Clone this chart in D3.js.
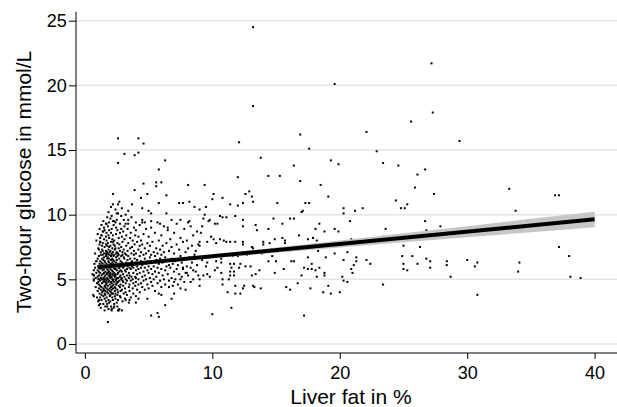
<!DOCTYPE html>
<html><head><meta charset="utf-8">
<script src="https://cdn.jsdelivr.net/npm/d3@7"></script>
<style>body{margin:0;background:#fff}svg{display:block}text{font-family:"Liberation Sans",Arial,sans-serif;fill:#000}</style>
</head><body><svg id="c" width="617" height="407"></svg>
<script>
const xTicks=[0,10,20,30,40];
const yTicks=[0,5,10,15,20,25];
// sparse / outlying points: [liver fat %, glucose mmol/L]
const sparse=[
[13.2,24.5],[27.2,21.7],[19.6,20.1],[13.2,18.4],[27.3,17.9],[25.6,17.2],[22.1,16.4],[16.9,16.2],[29.4,15.7],[12.1,15.6],[2.6,15.9],[4.2,15.9],[4.6,15.5],[3.1,14.7],[3.9,14.6],[4.2,14.8],[2.6,14.0],[6.3,14.2],[5.8,13.5],[17.6,15.1],[13.8,14.4],[16.4,13.8],[19.3,14.2],[19.9,13.9],[22.9,14.9],[23.4,14.0],[24.6,13.8],[26.1,13.1],[26.7,13.5],[12.0,12.9],[14.4,13.0],[15.3,13.0],
[25.9,12.1],[33.3,12.0],[27.4,11.6],[36.9,11.5],[37.2,11.5],[24.4,11.1],[25.3,10.8],[24.8,10.5],[25.1,10.5],[33.8,10.3],[26.7,9.5],[27.9,9.1],[23.6,8.9],[26.8,8.8],[23.4,8.3],[25.0,7.6],[26.3,7.5],[37.2,7.5],[24.9,6.8],[25.7,6.8],[38.0,6.8],[26.8,6.6],[27.1,6.4],[28.4,6.4],[30.0,6.5],[30.8,6.3],[34.1,6.3],[25.0,6.2],[26.1,6.2],[28.4,6.1],[30.6,6.0],[27.1,5.9],[25.0,5.8],[25.3,5.7],[34.0,5.6],[28.7,5.2],[38.1,5.2],[38.9,5.1],[23.4,4.6],[30.8,3.8],
[9.4,12.3],[16.9,12.6],[18.5,12.3],[10.1,11.6],[10.0,11.2],[10.8,11.3],[12.6,11.6],[12.9,11.8],[13.1,11.4],[13.2,11.0],[12.4,10.9],[12.0,10.7],[11.4,10.8],[9.5,10.6],[15.1,10.9],[17.3,10.9],[17.6,10.9],[19.1,11.4],[17.1,10.3],[17.0,10.2],[20.3,10.5],[20.3,10.1],[21.2,10.3],[21.8,10.5],[9.0,10.4],[9.4,10.0],[9.3,9.7],[10.6,9.9],[10.8,9.8],[11.1,9.8],[11.8,9.9],[9.8,9.6],[10.2,9.3],[10.4,9.3],[12.4,9.6],[14.8,9.7],[15.5,9.3],[16.1,9.7],[16.4,9.7],[18.4,9.3],[18.1,8.9],[18.8,8.7],[19.6,8.9],[19.9,8.7],[20.8,9.5],[12.4,9.1],[13.4,9.2],[13.5,8.8],[14.4,8.9],[9.1,8.6],[9.0,7.9],[9.0,7.6],[9.6,7.9],[9.9,8.3],[10.1,8.1],[10.3,7.8],[10.6,8.1],[10.9,8.0],[11.1,7.9],[11.4,7.9],[11.8,7.9],[12.4,7.9],[12.4,7.7],[13.1,7.5],[13.2,7.4],[14.0,7.9],[14.0,7.7],[14.5,7.8],[14.9,8.1],[15.5,8.2],[15.7,8.0],[15.7,7.8],[16.8,8.4],[17.5,8.1],[17.9,8.2],[18.2,8.0],[18.3,7.2],[19.2,7.8],[14.7,6.8],[12.7,6.9],[12.0,6.8],[11.6,6.8],[10.7,6.6],[9.7,6.7],[9.2,6.5],[9.6,6.3],[10.3,6.4],[10.7,6.3],[11.4,6.2],[11.7,6.2],[12.1,5.9],[11.5,5.9],[10.4,5.9],[9.5,6.0],[9.3,5.3],[9.6,5.4],[9.8,5.2],[10.2,5.7],[10.7,5.5],[11.4,5.6],[11.7,5.6],[11.7,5.3],[9.0,5.0],[10.8,5.0],[11.3,5.0],[11.4,5.3],[13.1,5.3],[13.4,5.4],[13.7,5.7],[13.0,6.0],[12.6,6.0],[12.2,6.2],[10.8,4.6],[9.0,4.5],[11.8,4.5],[12.5,4.5],[12.4,4.3],[13.2,4.5],[13.3,4.4],[13.8,4.3],[11.2,4.0],[11.8,3.9],[12.2,3.9],[11.5,2.8],[10.0,2.3],[17.2,2.2],[14.4,6.4],[15.0,6.4],[15.6,5.8],[16.2,6.4],[16.4,6.4],[15.8,4.4],[16.1,4.2],[16.7,4.7],[17.0,5.3],[17.2,5.9],[17.5,5.8],[17.8,5.8],[18.1,5.7],[17.8,6.2],[18.4,5.9],[18.9,6.7],[18.8,5.5],[18.8,5.3],[18.2,5.2],[17.7,4.3],[19.1,4.5],[18.7,4.0],[19.3,3.9],[20.0,4.0],[20.3,4.9],[20.6,4.8],[20.2,5.2],[21.0,5.5],[20.9,5.8],[21.1,6.1],[20.3,6.5],[20.6,7.1],[21.3,6.7],[21.3,6.4],[22.1,6.5],[22.4,6.2],[20.9,8.1],[19.6,7.0],[17.5,6.7],[14.9,5.5],[13.9,7.0],
[4.6,12.4],[5.6,12.5],[6.0,12.5],[5.6,12.2],[8.1,12.3],[2.2,11.6],[3.9,11.9],[4.9,11.6],[4.4,11.3],[6.4,11.5],[7.4,10.9],[7.7,10.9],[8.2,11.0],[5.8,10.9],[3.7,10.8],[2.6,10.8],[2.2,10.8],[2.7,11.0],[3.4,10.3],[5.0,10.3],[4.5,10.5],[2.5,10.1],[5.2,10.1],[6.4,10.1],[8.6,10.6],[1.7,9.3],[2.2,9.5],[2.4,9.4],[3.2,9.3],[3.4,9.6],[4.0,9.4],[4.5,9.4],[4.7,9.4],[5.2,9.5],[5.9,9.3],[6.5,9.0],[6.8,9.6],[7.5,9.6],[8.1,9.4],[8.3,9.1],[9.2,9.1],[9.7,9.5],[1.4,8.7],[1.3,8.4],[1.2,7.9],[1.1,7.3],[0.9,6.4],[0.7,5.7],[0.7,5.3],[0.7,5.0],[0.7,3.7],[1.1,3.4],[1.2,3.1],[1.6,2.9],[2.1,2.7],[1.8,1.7],[2.3,2.9],[2.6,2.6],[2.9,2.6],[2.5,3.2],[3.2,3.4],[3.5,3.4],[4.0,3.2],[4.2,3.5],[4.9,3.5],[5.2,2.2],[5.7,2.4],[5.8,2.1],[6.3,3.0],[5.8,3.9],[6.0,3.8],[6.8,3.5],[7.0,3.9],[7.5,4.3],[7.9,4.2],[8.3,4.8],[7.5,5.0],[7.0,4.8],[6.6,4.4],[8.9,5.3],[8.5,5.7],[8.0,5.5],[7.7,5.9]
];
// dense cluster, per liver-fat column: glucose values
const colX=[0.60,0.65,0.70,0.75,0.80,0.85,0.90,0.95,1.00,1.05,1.10,1.15,1.20,1.25,1.30,1.35,1.40,1.45,1.50,1.55,1.60,1.65,1.70,1.75,1.80,1.85,1.90,1.95,2.00,2.05,2.10,2.15,2.20,2.25,2.30,2.35,2.40,2.45,2.50,2.55,2.60,2.65,2.70,2.75,2.80,2.85,2.90,2.95,3.00,3.05,3.10,3.15,3.20,3.25,3.30,3.35,3.40,3.45,3.50,3.55,3.60,3.65,3.70,3.75,3.80,3.85,3.90,3.95,
4.0,4.1,4.2,4.3,4.4,4.5,4.6,4.7,4.8,4.9,5.0,5.1,5.2,5.3,5.4,5.5,5.6,5.7,5.8,5.9,6.0,6.1,6.2,6.3,6.4,6.5,6.6,6.7,6.8,6.9,7.0,7.1,7.2,7.3,7.4,7.5,7.6,7.7,7.8,7.9,8.0,8.1,8.2,8.3,8.4,8.5,8.6,8.7,8.8,8.9];
const colY=[
[5.4],[3.8],[4.9,5.3],[6.2],[5.9,7.0],[4.4,5.1],[6.4,5.5,8.0],[3.6,4.7],
[5.2,4.1,5.7,6.6,8.5],[6.0,7.4,4.8,3.3,5.0],
[4.6,6.8,5.3,4.3,5.6,3.0],[5.9,3.9,7.7,6.2,8.9,5.0],
[5.5,6.4,3.6,4.9,8.2,4.5,7.9],[4.2,7.1,5.8,6.9,5.1,6.1,2.8],
[6.0,5.3,3.8,4.4,8.4,9.2,6.3,3.4],[4.7,7.3,6.6,5.9,5.0,4.0,7.6],
[5.7,6.9,7.8,6.2,5.4,4.1,7.2,5.9],[4.3,5.1,3.7,4.8,8.7,6.5,3.1,9.5],
[4.9,5.5,7.0,6.7,8.1,5.8,4.2,9.0,5.0],[6.1,3.9,4.5,5.2,3.5,7.5,6.4,2.6,8.8],
[5.3,6.3,3.8,4.1,5.0,4.4,5.6,6.0,4.8],[4.6,7.2,5.9,6.8,8.3,7.7,3.3,9.3,7.0],
[6.2,5.4,4.7,3.6,8.0,4.3,6.0,8.6,4.9,6.9],[4.0,7.6,6.6,5.1,5.8,7.1,3.1,5.5,9.8,2.9],
[5.0,4.5,5.7,6.1,4.2,7.0,6.7,9.1,7.8,5.5],[6.4,7.3,3.9,8.4,5.3,4.8,3.4,5.9,2.7,10.2],
[5.6,6.9,7.5,6.3,8.2,4.9,3.2,9.4,8.8,6.6],[4.1,5.2,3.7,4.6,5.9,7.1,6.0,5.4,4.3],
[6.0,5.1,3.8,5.5,7.2,3.3,5.8,9.7,5.3,7.6],[4.4,7.9,6.5,4.8,8.6,6.2,4.0,6.8,2.9,10.6],
[5.2,4.2,5.7,6.1,4.7,6.9,8.9,7.0,9.9,2.6],[6.6,7.4,3.6,8.1,5.0,3.9,5.4,4.5,6.3],
[4.9,5.6,3.9,4.3,8.4,7.1,3.4,6.5,7.9],[6.2,7.7,6.8,5.3,4.6,5.9,9.2,5.0,2.8],
[5.5,6.4,4.8,8.0,6.0,9.5,6.9,3.1],[4.1,7.3,5.8,3.7,5.2,4.4,7.6,5.4],
[6.1,5.3,3.9,5.8,4.3,7.4,3.5,10.4],[4.6,7.0,6.7,8.5,5.0,9.0,6.3,4.9],
[5.7,6.5,5.1,6.0,4.7,7.1,9.6],[4.2,7.8,3.8,8.8,5.4,2.9,6.8],
[4.8,5.5,4.0,5.1,3.4,10.1,7.0],[6.2,7.4,6.9,8.2,5.9,4.5,2.6],
[5.9,6.6,7.7,6.1,4.9,5.6,2.7],[4.4,5.2,3.7,8.6,9.3,7.2],
[5.3,4.6,4.1,5.7,3.6,6.4],[6.8,7.5,6.0,8.9,9.9,5.0],
[6.3,5.6,4.2,5.1,8.3,10.5],[4.9,7.9,6.9,3.3,7.1],
[5.4,4.5,5.9,8.7,4.8],[6.7,7.3,3.9,6.2,9.6],
[6.0,5.2,6.6,8.1,9.1],[4.3,7.0,3.5,5.7],
[5.6,4.7,5.0,4.0,10.0],[7.6,6.3,8.4,6.9],
[4.9,5.8,3.8,5.3],[6.5,7.2,8.9,6.0],
[6.2,7.8,6.8,9.3],[5.1,4.4,5.5,3.2],
[5.3,4.6,5.9,4.1],[6.6,7.4,8.2],
[5.8,4.9,8.6,3.6],[7.0,6.3,5.2,9.8],
[6.4,7.5,6.0],[5.0,4.3,8.0],
[5.5,4.7,5.9,3.9],[6.9,7.2,9.0],
[6.1,7.7,6.6],[5.2,4.5,8.4],
[5.7,7.0,4.8,6.3,8.8,5.1,3.7],
[6.5,5.4,7.9,4.2,6.0],
[5.0,7.3,6.2,4.6,8.3,5.8],
[6.8,5.5,4.0,7.6,9.2],
[5.9,4.7,7.1,6.4,8.0],
[6.1,5.2,7.7,4.4,9.6],
[5.6,6.9,4.9,8.5],
[6.6,5.3,7.4,4.2,5.9],
[5.0,7.0,6.2,8.9],
[6.4,5.7,4.6,7.8],
[5.5,7.2,6.0,4.3,8.3],
[6.7,5.1,7.6],
[5.8,4.8,6.9,9.0],
[6.3,5.4,7.9,4.5],
[7.1,6.0,5.0],
[5.6,6.8,8.6,4.1],
[6.5,5.2,7.4],
[5.9,7.0,4.7,9.4],
[6.2,5.5,8.0],
[7.3,4.9,6.6],
[5.8,6.9,8.4,4.4],
[6.3,5.3,7.6],
[5.0,7.1,9.1],
[6.7,5.7,4.6],
[7.8,6.0],
[5.4,6.5,8.8],
[7.2,4.9,6.1],
[5.9,8.1],
[6.6,5.1,7.5],
[6.2,4.5],
[7.0,5.6,8.6],
[6.4,5.0],
[7.7,5.8,9.3],
[6.1,4.6],
[7.3,5.4],
[6.8,8.2],
[5.2,6.3],
[7.9,5.8],
[6.6,4.8,8.9],
[7.1,5.5],
[6.0,8.0],
[5.3,7.4],
[6.7,9.5],
[5.9],
[7.6,6.3],
[5.0,8.4],
[6.9],
[7.2,5.6],
[6.1,8.7],
[7.7]
];
// fitted line and 95% CI band
const fitX=[1,40];
const fitY=[5.93,9.64];
const ciX=[1,3,6,10,15,20,25,30,35,40];
const ciLow=[5.75,5.98,6.28,6.64,7.06,7.46,7.86,8.25,8.64,9.03];
const ciHigh=[6.11,6.26,6.52,6.92,7.46,8.00,8.56,9.11,9.68,10.23];

const svg=d3.select('#c');
const pLeft=76,pRight=617,pTop=11.7,pBottom=353;
const x=d3.scaleLinear().domain([0,40]).range([84.9,594.6]);
const y=d3.scaleLinear().domain([0,25]).range([344,20.7]);

svg.append('g').selectAll('line').data(yTicks).join('line')
 .attr('x1',pLeft).attr('x2',pRight).attr('y1',d=>y(d)).attr('y2',d=>y(d))
 .attr('stroke','#e6e6e6').attr('stroke-width',1.5);

const pts=sparse.concat(colX.flatMap((cx,i)=>colY[i].map(v=>[cx,v])));
svg.append('g').selectAll('rect').data(pts).join('rect')
 .attr('x',d=>x(d[0])-1).attr('y',d=>y(d[1])-1).attr('width',2).attr('height',2).attr('fill','#000');

const band=ciX.map((v,i)=>({x:v,lo:ciLow[i],hi:ciHigh[i]}));
svg.append('path').datum(band)
 .attr('d',d3.area().x(d=>x(d.x)).y0(d=>y(d.lo)).y1(d=>y(d.hi)))
 .attr('fill','#c6c6c6');
svg.append('path').datum(fitX.map((v,i)=>[v,fitY[i]]))
 .attr('d',d3.line().x(d=>x(d[0])).y(d=>y(d[1])))
 .attr('stroke','#000').attr('stroke-width',4).attr('fill','none');

const gx=svg.append('g').attr('transform',`translate(0,${pBottom})`)
 .call(d3.axisBottom(x).tickValues(xTicks).tickSize(6).tickPadding(7.5));
const gy=svg.append('g').attr('transform',`translate(${pLeft},0)`)
 .call(d3.axisLeft(y).tickValues(yTicks).tickSize(7).tickPadding(2.3));
[gx,gy].forEach(g=>{
  g.select('.domain').remove();
  g.selectAll('text').attr('font-size',18).attr('font-family','"Liberation Sans",Arial,sans-serif').attr('fill','#000');
  g.selectAll('line').attr('stroke','#000');
});
svg.append('line').attr('x1',pLeft).attr('x2',pRight).attr('y1',pBottom).attr('y2',pBottom).attr('stroke','#000');
svg.append('line').attr('x1',pLeft).attr('x2',pLeft).attr('y1',pTop).attr('y2',pBottom).attr('stroke','#000');

svg.append('text').attr('x',351).attr('y',403.5).attr('text-anchor','middle').attr('font-size',21).text('Liver fat in %');
svg.append('text').attr('transform','translate(30.5,182) rotate(-90)').attr('text-anchor','middle').attr('font-size',21).text('Two-hour glucose in mmol/L');
</script></body></html>
